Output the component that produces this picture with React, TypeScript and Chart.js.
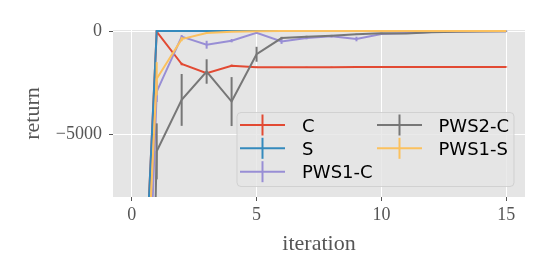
import React, { useEffect, useRef } from "react";
import { Chart, registerables } from "chart.js";

Chart.register(...registerables);

const iterations = [0, 1, 2, 3, 4, 5, 6, 7, 8, 9, 10, 11, 12, 13, 14, 15];
const seriesNames = ["C", "S", "PWS1-C", "PWS2-C", "PWS1-S"];
const seriesColors = ["#E24A33", "#348ABD", "#988ED5", "#777777", "#FBC15E"];

const cReturn = [-26000, -30, -1590, -2035, -1670, -1745, -1750, -1745, -1740, -1735, -1735, -1730, -1735, -1730, -1730, -1730];
const cError = [0, 30, 60, 80, 50, 30, 20, 20, 20, 20, 20, 20, 20, 20, 20, 20];

const sReturn = [-26000, 0, 0, 0, 0, 0, 0, 0, 0, 0, 0, 0, 0, 0, 0, 0];
const sError = [0, 0, 0, 0, 0, 0, 0, 0, 0, 0, 0, 0, 0, 0, 0, 0];

const pws1cReturn = [-35000, -2920, -270, -660, -465, -80, -500, -340, -255, -385, -145, -100, -50, -20, -10, -5];
const pws1cError = [0, 500, 80, 190, 80, 50, 120, 60, 50, 110, 40, 20, 20, 20, 20, 20];

const pws2cReturn = [-60000, -5800, -3320, -1950, -3400, -1120, -340, -270, -225, -160, -110, -120, -60, -30, -20, -10];
const pws2cError = [0, 1350, 1250, 590, 1180, 360, 60, 40, 40, 30, 30, 20, 20, 10, 10, 10];

const pws1sReturn = [-27000, -2300, -390, -100, -30, -10, 0, 0, 0, 0, 0, 0, 0, 0, 0, 0];
const pws1sError = [0, 800, 100, 40, 20, 10, 0, 0, 0, 0, 0, 0, 0, 0, 0, 0];

const xTicks = [0, 5, 10, 15];
const yTicks = [-5000, 0];

const allReturns = [cReturn, sReturn, pws1cReturn, pws2cReturn, pws1sReturn];
const allErrors = [cError, sError, pws1cError, pws2cError, pws1sError];

const bgPlugin = {
  id: "ggBackground",
  beforeDraw(chart: any) {
    const { ctx, chartArea } = chart;
    ctx.save();
    ctx.fillStyle = "#E5E5E5";
    ctx.fillRect(chartArea.left, chartArea.top, chartArea.right - chartArea.left, chartArea.bottom - chartArea.top);
    ctx.restore();
  },
};

const errorBarPlugin = {
  id: "errorBars",
  afterDatasetDraw(chart: any, args: any) {
    const idx = args.index;
    const errs = allErrors[idx];
    const vals = allReturns[idx];
    if (!errs) return;
    const { ctx, chartArea } = chart;
    const xs = chart.scales.x;
    const ys = chart.scales.y;
    ctx.save();
    ctx.beginPath();
    ctx.rect(chartArea.left, chartArea.top, chartArea.right - chartArea.left, chartArea.bottom - chartArea.top);
    ctx.clip();
    ctx.strokeStyle = seriesColors[idx];
    ctx.lineWidth = 2;
    for (let i = 0; i < vals.length; i++) {
      const e = errs[i];
      if (!e) continue;
      const px = xs.getPixelForValue(iterations[i]);
      ctx.beginPath();
      ctx.moveTo(px, ys.getPixelForValue(vals[i] - e));
      ctx.lineTo(px, ys.getPixelForValue(vals[i] + e));
      ctx.stroke();
    }
    ctx.restore();
  },
};

const legendPlugin = {
  id: "mplLegend",
  afterDraw(chart: any) {
    const { ctx } = chart;
    ctx.save();
    const x0 = 237, y0 = 112.5, w = 277, h = 74, r = 4;
    ctx.beginPath();
    ctx.moveTo(x0 + r, y0);
    ctx.lineTo(x0 + w - r, y0);
    ctx.quadraticCurveTo(x0 + w, y0, x0 + w, y0 + r);
    ctx.lineTo(x0 + w, y0 + h - r);
    ctx.quadraticCurveTo(x0 + w, y0 + h, x0 + w - r, y0 + h);
    ctx.lineTo(x0 + r, y0 + h);
    ctx.quadraticCurveTo(x0, y0 + h, x0, y0 + h - r);
    ctx.lineTo(x0, y0 + r);
    ctx.quadraticCurveTo(x0, y0, x0 + r, y0);
    ctx.closePath();
    ctx.fillStyle = "rgba(229,229,229,0.8)";
    ctx.fill();
    ctx.strokeStyle = "rgba(204,204,204,0.8)";
    ctx.lineWidth = 1;
    ctx.stroke();

    const cols = [
      { hx: 240, tx: 302 },
      { hx: 377, tx: 438.5 },
    ];
    const rows = [125, 148.3, 171.7];
    ctx.font = "18px 'DejaVu Sans'";
    ctx.textBaseline = "alphabetic";
    ctx.textAlign = "left";
    seriesNames.forEach((name, i) => {
      const col = cols[Math.floor(i / 3)];
      const cy = rows[i % 3];
      ctx.strokeStyle = seriesColors[i];
      ctx.lineWidth = 2;
      ctx.beginPath();
      ctx.moveTo(col.hx, cy);
      ctx.lineTo(col.hx + 45, cy);
      ctx.stroke();
      ctx.beginPath();
      ctx.moveTo(col.hx + 22.5, cy - 10.5);
      ctx.lineTo(col.hx + 22.5, cy + 10.5);
      ctx.stroke();
      ctx.fillStyle = "#000000";
      ctx.fillText(name, col.tx, cy + 6.6);
    });
    ctx.restore();
  },
};

export default function App() {
  const canvasRef = useRef<HTMLCanvasElement | null>(null);

  useEffect(() => {
    const canvas = canvasRef.current;
    if (!canvas) return;
    const orders = [5, 4, 3, 2, 1];
    const datasets = seriesNames.map((name, i) => ({
      label: name,
      data: iterations.map((x, j) => ({ x, y: allReturns[i][j] })),
      borderColor: seriesColors[i],
      backgroundColor: seriesColors[i],
      borderWidth: 2,
      pointRadius: 0,
      tension: 0,
      fill: false,
      order: orders[i],
    }));

    const chart = new Chart(canvas, {
      type: "line",
      data: { datasets },
      plugins: [bgPlugin, errorBarPlugin, legendPlugin],
      options: {
        animation: false,
        responsive: false,
        maintainAspectRatio: false,
        devicePixelRatio: 1,
        layout: { padding: { top: 30, right: 23, left: 0, bottom: 0 } },
        plugins: {
          legend: { display: false },
          tooltip: { enabled: false },
        },
        scales: {
          x: {
            type: "linear",
            min: -0.75,
            max: 15.75,
            afterBuildTicks: (scale: any) => {
              scale.ticks = xTicks.map((v) => ({ value: v }));
            },
            afterFit: (scale: any) => {
              scale.height = 77;
            },
            grid: {
              color: "#FFFFFF",
              lineWidth: 1,
              drawTicks: true,
              tickLength: 4,
              tickColor: "#555555",
              tickWidth: 1,
            },
            border: { display: false },
            ticks: {
              color: "#555555",
              padding: 3,
              font: { family: "'Liberation Serif'", size: 18 },
              callback: (v: any) => String(v),
              maxRotation: 0,
            },
            title: {
              display: true,
              text: "iteration",
              color: "#555555",
              font: { family: "'Liberation Serif'", size: 22 },
              padding: { top: 0, bottom: 17 },
            },
          },
          y: {
            type: "linear",
            min: -8000,
            max: 50,
            afterBuildTicks: (scale: any) => {
              scale.ticks = yTicks.map((v) => ({ value: v }));
            },
            afterFit: (scale: any) => {
              scale.width = 113;
            },
            grid: {
              color: "#FFFFFF",
              lineWidth: 1,
              drawTicks: true,
              tickLength: 4,
              tickColor: "#555555",
              tickWidth: 1,
            },
            border: { display: false },
            ticks: {
              color: "#555555",
              padding: 7,
              font: { family: "'Liberation Serif'", size: 18 },
              callback: (v: any) => (v < 0 ? "\u2212" + String(Math.abs(v)) : String(v)),
            },
            title: {
              display: true,
              text: "return",
              color: "#555555",
              font: { family: "'Liberation Serif'", size: 22 },
              padding: { top: 20, bottom: 0 },
            },
          },
        },
      },
    } as any);

    return () => {
      chart.destroy();
    };
  }, []);

  return (
    <div style={{ position: "fixed", left: 0, top: 0, width: 548, height: 274, background: "#FFFFFF" }}>
      <canvas ref={canvasRef} width={548} height={274} style={{ width: 548, height: 274, display: "block" }} />
    </div>
  );
}
